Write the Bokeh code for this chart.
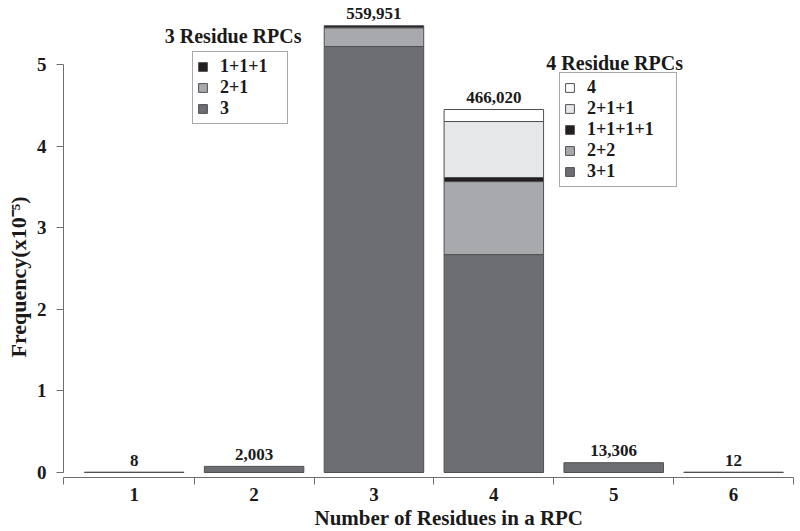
from bokeh.plotting import figure
from bokeh.models import (ColumnDataSource, FixedTicker, Legend, LegendItem,
                          LabelSet, Label, Range1d, Title)
from bokeh.embed import file_html
from bokeh.resources import INLINE

# ---------------- data (frequency x10^-5) ----------------
categories = ["1", "2", "3", "4", "5", "6"]
total_labels = ["8", "2,003", "559,951", "466,020", "13,306", "12"]
# bars without sub-classes
single_cats = ["1", "2", "5", "6"]
single_values = [0.004, 0.075, 0.12, 0.004]
# 3 residue RPCs, stacked bottom -> top
r3_names = ["3", "2+1", "1+1+1"]
r3_values = [5.22, 0.23, 0.025]
# 4 residue RPCs, stacked bottom -> top
r4_names = ["3+1", "2+2", "1+1+1+1", "2+1+1", "4"]
r4_values = [2.67, 0.895, 0.05, 0.686, 0.147]
y_ticks = [0, 1, 2, 3, 4, 5]

seg_colors = {"3": "#6d6e71", "2+1": "#a7a9ac", "1+1+1": "#231f20",
              "3+1": "#6d6e71", "2+2": "#a7a9ac", "1+1+1+1": "#231f20",
              "2+1+1": "#e6e7e8", "4": "#ffffff"}
BAR_W = 0.83
OUTLINE = "#505053"
FONT = "Liberation Serif"
TXT = "#1a1a1a"

x_pos = {c: i + 1 for i, c in enumerate(categories)}
x_lo, x_hi = 0.41, 6.5

p = figure(width=800, height=531, output_backend="svg", toolbar_location=None,
           x_range=Range1d(x_lo, x_hi), y_range=Range1d(-0.0613, 5.784),
           min_border_left=62, min_border_right=7, min_border_top=0,
           min_border_bottom=54)
p.outline_line_color = None
p.grid.visible = False

# single bars
p.vbar(x=[x_pos[c] for c in single_cats], top=single_values, bottom=0,
       width=BAR_W, fill_color="#6d6e71", line_color=OUTLINE, line_width=1)

def stack(cat, names, values):
    rends = {}
    bottom = 0.0
    for n, v in zip(names, values):
        r = p.vbar(x=[x_pos[cat]], bottom=[bottom], top=[bottom + v], width=BAR_W,
                   fill_color=seg_colors[n], line_color=OUTLINE, line_width=1)
        rends[n] = r
        bottom += v
    return rends

r3 = stack("3", r3_names, r3_values)
r4 = stack("4", r4_names, r4_values)

# totals above bars
totals = []
for c in categories:
    if c == "3":
        totals.append(sum(r3_values))
    elif c == "4":
        totals.append(sum(r4_values))
    else:
        totals.append(single_values[single_cats.index(c)])
lab_src = ColumnDataSource(dict(x=[x_pos[c] for c in categories], y=totals,
                                t=total_labels))
p.add_layout(LabelSet(x="x", y="y", text="t", source=lab_src, y_offset=12,
                      text_align="center", text_baseline="middle",
                      text_font=FONT, text_font_style="bold",
                      text_font_size="17px", text_color=TXT))

# axes
xa = p.xaxis[0]
xa.ticker = FixedTicker(ticks=[x_pos[c] for c in categories],
                        minor_ticks=[x_lo] + [x_pos[c] + 0.5 for c in categories])
xa.major_label_overrides = {x_pos[c]: c for c in categories}
xa.major_tick_line_color = None
xa.major_tick_out = 7
xa.major_tick_in = 0
xa.minor_tick_out = 7
xa.minor_tick_in = 0
xa.minor_tick_line_color = "#6d6e71"
xa.axis_line_color = "#6d6e71"
xa.major_label_standoff = 3

ya = p.yaxis[0]
ya.ticker = FixedTicker(ticks=y_ticks)
ya.bounds = (0, 5)
ya.major_tick_out = 7
ya.major_tick_in = 0
ya.minor_tick_line_color = None
ya.major_tick_line_color = "#6d6e71"
ya.axis_line_color = "#6d6e71"
ya.major_label_standoff = 10

for ax in (xa, ya):
    ax.major_label_text_font = FONT
    ax.major_label_text_font_style = "bold"
    ax.major_label_text_font_size = "19px"
    ax.major_label_text_color = TXT

# axis titles as side-panel titles (so they can be shifted like the original)
p.add_layout(Title(text="Number of Residues in a RPC", align="left", offset=251,
                   standoff=0, text_font=FONT, text_font_style="bold",
                   text_font_size="21px", text_color=TXT), "below")
p.add_layout(Title(text="Frequency(x10\u207b\u2075)", align="left", offset=120,
                   standoff=6, text_font=FONT, text_font_style="bold",
                   text_font_size="22px", text_color=TXT), "left")

def make_legend(items, loc, lw):
    lg = Legend(items=items, location=loc, orientation="vertical",
                border_line_color="#555555", border_line_width=1,
                background_fill_color="white", background_fill_alpha=1,
                label_text_font=FONT, label_text_font_style="bold",
                label_text_font_size="18px", label_text_color=TXT,
                glyph_width=11, glyph_height=11, label_standoff=12,
                label_height=18, label_width=lw, spacing=0, padding=4, margin=0)
    p.add_layout(lg, "center")

make_legend([LegendItem(label=n, renderers=[r3[n]]) for n in reversed(r3_names)],
            (129, 353), 63)
make_legend([LegendItem(label=n, renderers=[r4[n]]) for n in reversed(r4_names)],
            (496, 290), 85)

for txt, x, y in [("3 Residue RPCs", 1.825, 5.343), ("4 Residue RPCs", 5.008, 5.012)]:
    p.add_layout(Label(x=x, y=y, text=txt, text_align="center",
                       text_baseline="middle", text_font=FONT,
                       text_font_style="bold", text_font_size="20px",
                       text_color=TXT))

open("out.html", "w").write(file_html(p, INLINE))
